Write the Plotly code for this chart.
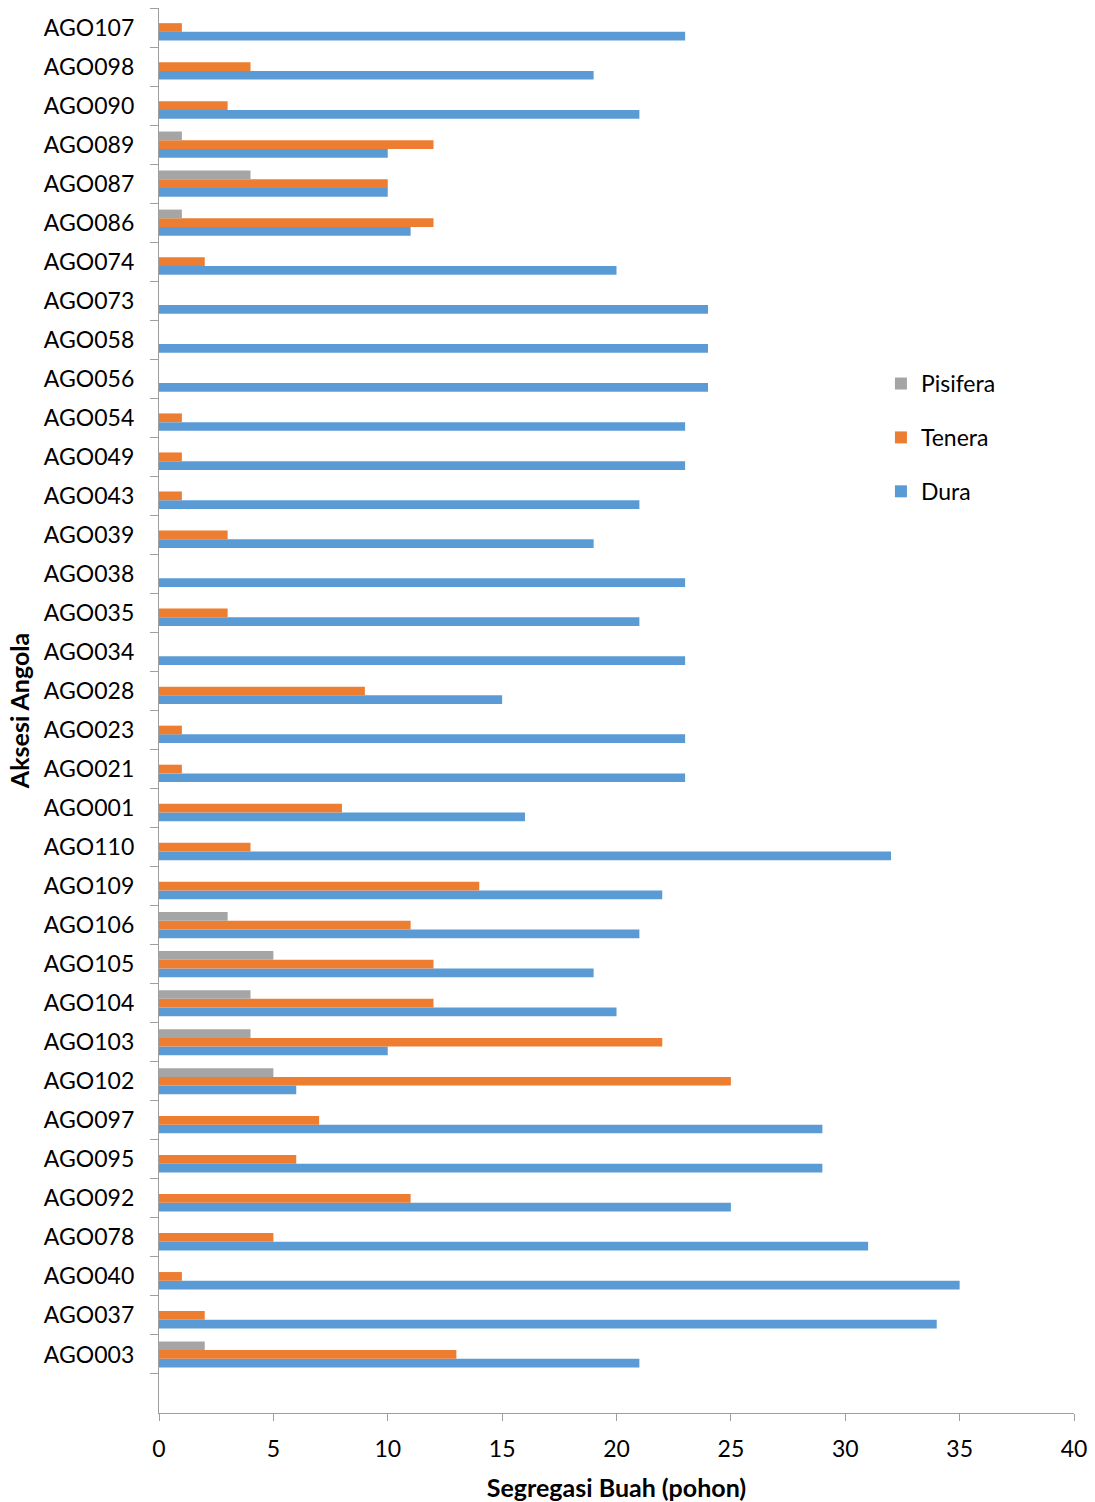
import plotly.graph_objects as go

# Categories listed top to bottom as displayed
categories = ["AGO107", "AGO098", "AGO090", "AGO089", "AGO087", "AGO086", "AGO074",
              "AGO073", "AGO058", "AGO056", "AGO054", "AGO049", "AGO043", "AGO039",
              "AGO038", "AGO035", "AGO034", "AGO028", "AGO023", "AGO021", "AGO001",
              "AGO110", "AGO109", "AGO106", "AGO105", "AGO104", "AGO103", "AGO102",
              "AGO097", "AGO095", "AGO092", "AGO078", "AGO040", "AGO037", "AGO003"]

dura = [23, 19, 21, 10, 10, 11, 20,
        24, 24, 24, 23, 23, 21, 19,
        23, 21, 23, 15, 23, 23, 16,
        32, 22, 21, 19, 20, 10, 6,
        29, 29, 25, 31, 35, 34, 21]

tenera = [1, 4, 3, 12, 10, 12, 2,
          0, 0, 0, 1, 1, 1, 3,
          0, 3, 0, 9, 1, 1, 8,
          4, 14, 11, 12, 12, 22, 25,
          7, 6, 11, 5, 1, 2, 13]

pisifera = [0, 0, 0, 1, 4, 1, 0,
            0, 0, 0, 0, 0, 0, 0,
            0, 0, 0, 0, 0, 0, 0,
            0, 0, 3, 5, 4, 4, 5,
            0, 0, 0, 0, 0, 0, 2]

x_ticks = [0, 5, 10, 15, 20, 25, 30, 35, 40]

FONT = "Lato"
C_DURA = "#5B9BD5"
C_TENERA = "#ED7D31"
C_PISIFERA = "#A5A5A5"
AXIS_COLOR = "#9E9E9E"

fig = go.Figure()
fig.add_trace(go.Bar(y=categories, x=dura, name="Dura", orientation="h",
                     marker=dict(color=C_DURA, line=dict(width=0)),
                     legendgroup="d", legendrank=3))
fig.add_trace(go.Bar(y=categories, x=tenera, name="Tenera", orientation="h",
                     marker=dict(color=C_TENERA, line=dict(width=0)),
                     legendgroup="t", legendrank=2))
fig.add_trace(go.Bar(y=categories, x=pisifera, name="Pisifera", orientation="h",
                     marker=dict(color=C_PISIFERA, line=dict(width=0)),
                     legendgroup="p", legendrank=1))

fig.update_layout(
    width=1095, height=1502,
    margin=dict(l=159, r=21, t=8, b=89),
    paper_bgcolor="white", plot_bgcolor="white",
    barmode="group", bargap=0.33, bargroupgap=0,
    font=dict(family=FONT, size=23, color="#000000"),
    showlegend=True,
    legend=dict(x=0.789, y=0.748, xanchor="left", yanchor="top",
                traceorder="grouped", tracegroupgap=21,
                font=dict(family=FONT, size=23, color="#000000"),
                bgcolor="rgba(0,0,0,0)"),
    xaxis=dict(range=[0, 40], tickvals=x_ticks, ticktext=[str(v) for v in x_ticks],
               showgrid=False, zeroline=False,
               showline=True, linecolor=AXIS_COLOR, linewidth=1.3,
               ticks="outside", ticklen=7, tickcolor=AXIS_COLOR, tickwidth=1.3,
               ticklabelstandoff=8,
               tickfont=dict(family=FONT, size=23, color="#000000"),
               title=dict(text="<b>Segregasi Buah (pohon)</b>", standoff=18,
                          font=dict(family=FONT, size=25, color="#000000")),
               automargin=False),
    yaxis=dict(type="category", categoryorder="array", categoryarray=categories[::-1],
               range=[-1.5, 34.5],
               showgrid=False, zeroline=False,
               showline=True, linecolor=AXIS_COLOR, linewidth=1.3,
               ticks="outside", tickson="boundaries", ticklen=8,
               tickcolor=AXIS_COLOR, tickwidth=1.3,
               ticklabelstandoff=19,
               tickfont=dict(family=FONT, size=23, color="#000000"),
               title=dict(text="<b>Aksesi Angola</b>", standoff=7,
                          font=dict(family=FONT, size=25, color="#000000")),
               automargin=False),
)

fig.write_html("out.html")
